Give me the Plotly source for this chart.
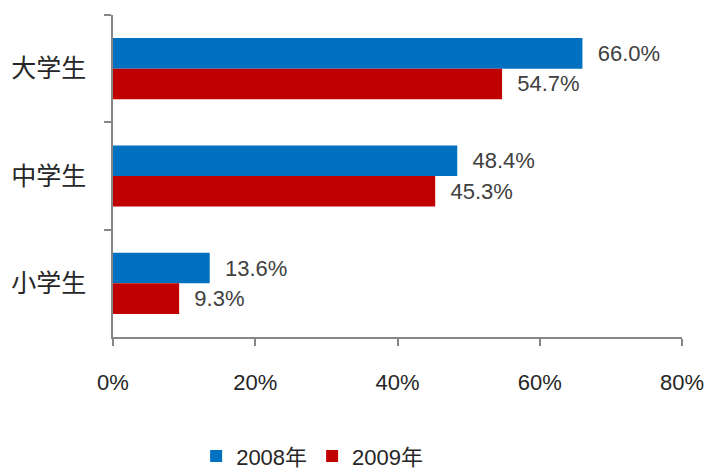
import plotly.graph_objects as go

categories = ["大学生", "中学生", "小学生"]
series_names = ["2008年", "2009年"]
values_2008 = [66.0, 48.4, 13.6]
values_2009 = [54.7, 45.3, 9.3]
x_ticks = [0, 20, 40, 60, 80]
x_tick_labels = ["0%", "20%", "40%", "60%", "80%"]

colors = ["#0070C0", "#C00000"]
font_family = "Liberation Sans, Noto Sans CJK SC, sans-serif"

fig = go.Figure()
for name, vals, col in zip(series_names, [values_2008, values_2009], colors):
    fig.add_trace(go.Bar(
        y=categories, x=vals, name=name, orientation="h",
        marker=dict(color=col, line=dict(width=0)),
        text=[f"{v:.1f}%" for v in vals],
        texttemplate="  %{text}",
        textposition="outside",
        textfont=dict(size=22, color="#404040", family=font_family),
        cliponaxis=False,
    ))

fig.update_layout(
    width=705, height=472,
    margin=dict(l=113, r=23, t=15, b=135, autoexpand=False),
    paper_bgcolor="white", plot_bgcolor="white",
    barmode="group", bargap=0.43, bargroupgap=0,
    font=dict(family=font_family, size=22, color="#262626"),
    legend=dict(orientation="h", x=0.35, xanchor="center", y=-0.37, yanchor="middle",
                font=dict(size=22, color="#262626"), itemwidth=30, traceorder="normal"),
    xaxis=dict(range=[0, 80], tickvals=x_ticks, ticktext=x_tick_labels, automargin=False,
               showgrid=False, zeroline=False, showline=True, linecolor="#868686", linewidth=1.5,
               ticks="outside", ticklen=7, tickcolor="#868686", tickwidth=1.5,
               ticklabelstandoff=18, tickfont=dict(size=22)),
    yaxis=dict(categoryorder="array", categoryarray=categories, autorange="reversed",
               automargin=False,
               showgrid=False, showline=True, linecolor="#868686", linewidth=1.5,
               ticks="outside", ticklen=7, tickcolor="#868686", tickwidth=1.5,
               tickson="boundaries", ticklabelstandoff=20, tickfont=dict(size=25)),
)

fig.write_html("out.html", config={"displayModeBar": False},
               post_script="document.body.style.margin='0';document.body.style.padding='0';")
